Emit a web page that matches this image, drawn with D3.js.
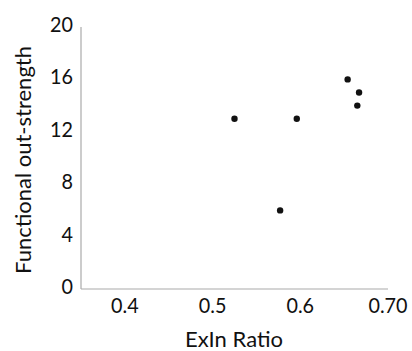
<!DOCTYPE html>
<html><head><meta charset="utf-8">
<script src="https://cdn.jsdelivr.net/npm/d3@7"></script>
<style>
body{margin:0;background:#fff;}
text{font-family:Lato,"Open Sans",sans-serif;fill:#111;}
</style></head>
<body>
<svg id="c" width="412" height="351"></svg>
<script>
const exinRatio = [0.525, 0.596, 0.577, 0.654, 0.667, 0.665];
const outStrength = [13, 13, 6, 16, 15, 14];
const xTicks = [0.4, 0.5, 0.6, 0.7];
const xTickLabels = ["0.4", "0.5", "0.6", "0.70"];
const yTicks = [0, 4, 8, 12, 16, 20];

const svg = d3.select("#c");
const x = d3.scaleLinear().domain([0.35, 0.70]).range([81, 388]);
const y = d3.scaleLinear().domain([0, 20]).range([289, 27]);

// axes lines
svg.append("line").attr("x1", x(0.35)).attr("x2", x(0.35)).attr("y1", y(20)).attr("y2", y(0))
  .attr("stroke", "#aaa").attr("stroke-width", 1.2);
svg.append("line").attr("x1", x(0.35)).attr("x2", x(0.70)).attr("y1", y(0)).attr("y2", y(0))
  .attr("stroke", "#aaa").attr("stroke-width", 1.2);

// y tick labels
svg.selectAll(".yt").data(yTicks).enter().append("text")
  .attr("transform", d => `translate(73,${y(d) - 3}) scale(0.9,1)`).attr("dy", "0.36em")
  .attr("text-anchor", "end").attr("font-size", 22).text(d => d);

// x tick labels
svg.selectAll(".xt").data(xTicks).enter().append("text")
  .attr("transform", d => `translate(${x(d)},313) scale(0.9,1)`)
  .attr("text-anchor", "middle").attr("font-size", 22).text((d, i) => xTickLabels[i]);

// titles
svg.append("text").attr("x", 234).attr("y", 347).attr("text-anchor", "middle")
  .attr("font-size", 22).text("ExIn Ratio");
svg.append("text").attr("transform", "translate(31,160) rotate(-90)")
  .attr("text-anchor", "middle").attr("font-size", 22).text("Functional out-strength");

// points
svg.selectAll(".pt").data(exinRatio).enter().append("circle")
  .attr("cx", d => x(d)).attr("cy", (d, i) => y(outStrength[i]))
  .attr("r", 3.2).attr("fill", "#111");
</script>
</body></html>
